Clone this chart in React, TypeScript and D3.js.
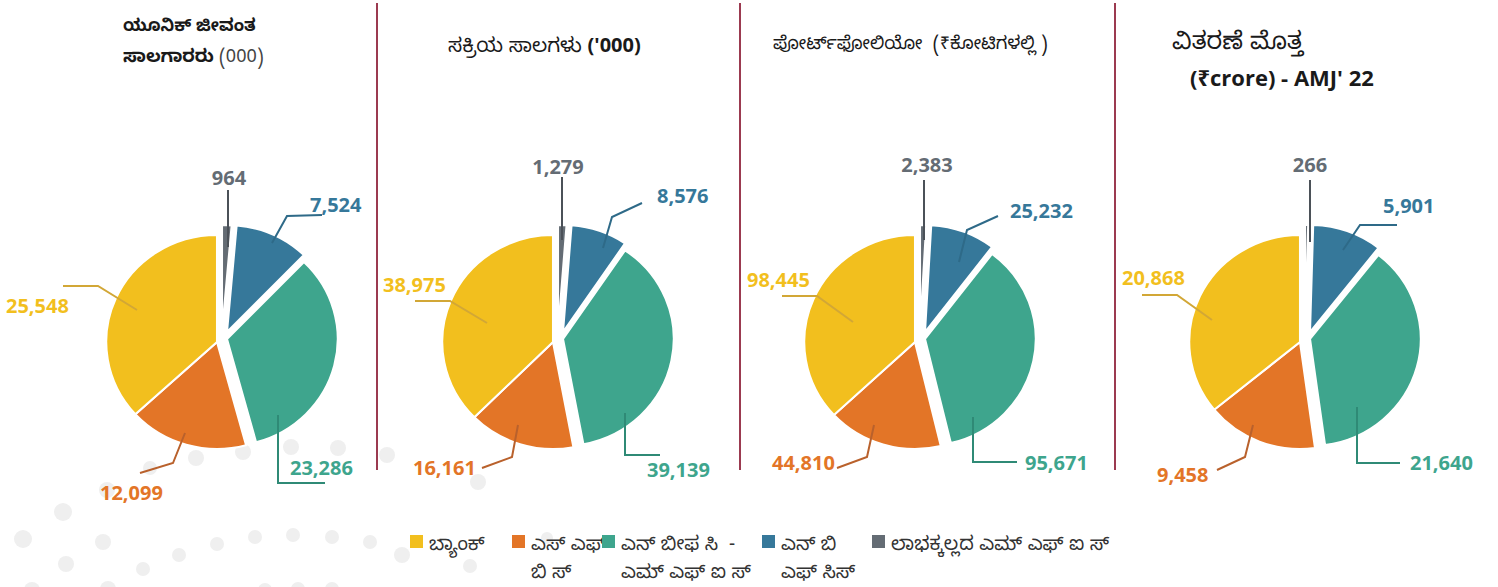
import React from "react";
import * as d3 from "d3";

// ---------- DATA ----------
const categories = [
  "ಬ್ಯಾಂಕ್",
  "ಎಸ್ ಎಫ್ ಬಿ ಸ್",
  "ಎನ್ ಬೀಫ ಸಿ - ಎಮ್ ಎಫ್ ಐ ಸ್",
  "ಎನ್ ಬಿ ಎಫ್ ಸಿಸ್",
  "ಲಾಭಕ್ಕಲ್ಲದ ಎಮ್ ಎಫ್ ಐ ಸ್",
];
const legendLines = [
  ["ಬ್ಯಾಂಕ್"],
  ["ಎಸ್ ಎಫ್", "ಬಿ ಸ್"],
  ["ಎನ್ ಬೀಫ ಸಿ  -", "ಎಮ್ ಎಫ್ ಐ ಸ್"],
  ["ಎನ್ ಬಿ", "ಎಫ್ ಸಿಸ್"],
  ["ಲಾಭಕ್ಕಲ್ಲದ ಎಮ್ ಎಫ್ ಐ ಸ್"],
];
const uniqueBorrowers = [25548, 12099, 23286, 7524, 964];
const activeLoans = [38975, 16161, 39139, 8576, 1279];
const portfolio = [98445, 44810, 95671, 25232, 2383];
const disbursement = [20868, 9458, 21640, 5901, 266];

// ---------- STYLE / LAYOUT ----------
const colors = ["#F2BF1E", "#E37527", "#3EA58D", "#36789A", "#646C74"];
const lineColors = ["#D2A736", "#B9612C", "#2F8A76", "#2E6A88", "#4B5158"];
const KN = "'Noto Sans Kannada', 'Noto Sans', 'Open Sans', sans-serif";
const NUM = "'Open Sans', 'Noto Sans', sans-serif";
const CY = 342;
const R = 107;
// explode offsets for teal, blue, grey
const explode: Record<number, [number, number]> = {
  2: [10, -3],
  3: [10, -10],
  4: [5, -10],
};

type Lbl = { tx: number; ty: number; anchor: string; pts: [number, number][] };
type PieCfg = { cx: number; values: number[]; labels: Lbl[] };

const pies: PieCfg[] = [
  {
    cx: 217,
    values: uniqueBorrowers,
    labels: [
      { tx: -211, ty: -29, anchor: "start", pts: [[-154, -56], [-119, -56], [-80, -32]] },
      { tx: -117, ty: 158, anchor: "start", pts: [[-77, 131], [-44, 121], [-32, 91]] },
      { tx: 73, ty: 133, anchor: "start", pts: [[61, 73], [61, 141], [108, 141]] },
      { tx: 93, ty: -130, anchor: "start", pts: [[105, -127], [70, -126], [55, -99]] },
      { tx: 12, ty: -157, anchor: "middle", pts: [[11, -152], [11, -95]] },
    ],
  },
  {
    cx: 553,
    values: activeLoans,
    labels: [
      { tx: -170, ty: -50, anchor: "start", pts: [[-138, -41], [-103, -41], [-66, -19]] },
      { tx: -140, ty: 133, anchor: "start", pts: [[-71, 126], [-41, 115], [-35, 83]] },
      { tx: 94, ty: 135, anchor: "start", pts: [[72, 71], [72, 113], [107, 113]] },
      { tx: 104, ty: -139, anchor: "start", pts: [[89, -139], [59, -125], [50, -94]] },
      { tx: 5, ty: -168, anchor: "middle", pts: [[9, -165], [9, -102]] },
    ],
  },
  {
    cx: 915,
    values: portfolio,
    labels: [
      { tx: -168, ty: -55, anchor: "start", pts: [[-133, -46], [-98, -46], [-62, -20]] },
      { tx: -143, ty: 128, anchor: "start", pts: [[-78, 126], [-48, 115], [-41, 83]] },
      { tx: 110, ty: 128, anchor: "start", pts: [[58, 75], [58, 120], [102, 120]] },
      { tx: 95, ty: -124, anchor: "start", pts: [[83, -126], [52, -112], [44, -80]] },
      { tx: 12, ty: -170, anchor: "middle", pts: [[9, -162], [9, -102]] },
    ],
  },
  {
    cx: 1300,
    values: disbursement,
    labels: [
      { tx: -178, ty: -57, anchor: "start", pts: [[-158, -47], [-123, -47], [-88, -22]] },
      { tx: -143, ty: 140, anchor: "start", pts: [[-83, 128], [-55, 115], [-47, 83]] },
      { tx: 110, ty: 128, anchor: "start", pts: [[57, 65], [57, 121], [100, 121]] },
      { tx: 83, ty: -129, anchor: "start", pts: [[97, -117], [60, -117], [43, -92]] },
      { tx: 10, ty: -170, anchor: "middle", pts: [[10, -162], [10, -100]] },
    ],
  },
];

const separators = [377, 740, 1115];
const legendX = [410, 512, 602, 762, 872];

const dots: [number, number, number][] = [
  [63, 512, 9], [23, 539, 9], [103, 542, 8], [66, 564, 8], [143, 569, 7],
  [179, 555, 7], [217, 544, 7], [255, 537, 7], [293, 535, 7], [332, 537, 7],
  [370, 542, 7], [32, 590, 8], [108, 589, 8], [265, 590, 7], [298, 589, 7],
  [332, 589, 7], [107, 490, 8], [150, 468, 7], [196, 458, 8], [243, 452, 8],
  [291, 447, 8], [338, 448, 8], [387, 455, 8], [478, 482, 8], [402, 555, 8],
  [470, 566, 7], [547, 538, 6],
];

const fmt = d3.format(",");

function PieChart({ cfg }: { cfg: PieCfg }) {
  const order = [4, 3, 2, 1, 0]; // clockwise from top: grey, blue, teal, orange, yellow
  const gen = d3
    .pie<number>()
    .sort(null)
    .value((i) => cfg.values[i]);
  const arcs = gen(order);
  const arc = d3.arc<d3.PieArcDatum<number>>().innerRadius(0).outerRadius(R);
  const line = d3.line();
  return (
    <g transform={`translate(${cfg.cx},${CY})`}>
      <g transform="scale(1.035,1)">
        {arcs.map((a) => {
          const off = explode[a.data] || [0, 0];
          return (
            <path
              key={a.data}
              d={arc(a) || ""}
              transform={`translate(${off[0] / 1.035},${off[1]})`}
              fill={colors[a.data]}
              stroke="#fff"
              strokeWidth={2}
            />
          );
        })}
      </g>
      {cfg.labels.map((l, i) => (
        <g key={i}>
          <path
            d={line(l.pts) || ""}
            fill="none"
            stroke={lineColors[i]}
            strokeWidth={2}
          />
          <text
            x={l.tx}
            y={l.ty}
            textAnchor={l.anchor}
            fontFamily={NUM}
            fontWeight={700}
            fontSize={20}
            fill={colors[i]}
          >
            {fmt(cfg.values[i])}
          </text>
        </g>
      ))}
    </g>
  );
}

export default function App() {
  return (
    <svg
      width={1498}
      height={587}
      style={{ position: "absolute", left: 0, top: 0, background: "#fff" }}
    >
      {dots.map(([x, y, r], i) => (
        <circle key={i} cx={x} cy={y} r={r} fill="#EFEFEF" />
      ))}
      {separators.map((x) => (
        <line key={x} x1={x} x2={x} y1={3} y2={470} stroke="#9B3A50" strokeWidth={2} />
      ))}

      {/* titles */}
      <text fontFamily={KN} fontSize={17} fill="#1a1a1a">
        <tspan x={123} y={31} fontWeight={700} fontSize={17}>ಯೂನಿಕ್ ಜೀವಂತ</tspan>
        <tspan x={123} y={62} fontWeight={700} fontSize={18}>ಸಾಲಗಾರರು</tspan>
        <tspan fontWeight={400} fill="#444" fontSize={18}> (000)</tspan>
      </text>
      <text x={448} y={52} fontFamily={KN} fontSize={20} fill="#1a1a1a">
        <tspan fontWeight={400}>ಸಕ್ರಿಯ ಸಾಲಗಳು </tspan>
        <tspan fontWeight={700} fontFamily={NUM}>('000)</tspan>
      </text>
      <text
        x={773}
        y={49}
        fontFamily={KN}
        fontSize={18}
        fill="#1a1a1a"
        style={{ whiteSpace: "pre" }}
      >
        {"ಪೋರ್ಟ್‌ಫೋಲಿಯೋ  (₹ಕೋಟಿಗಳಲ್ಲಿ )"}
      </text>
      <text x={1172} y={49} fontFamily={KN} fontSize={24} fill="#1a1a1a">
        ವಿತರಣೆ ಮೊತ್ತ
      </text>
      <text x={1190} y={86} fontFamily={NUM} fontSize={22} fontWeight={700} fill="#1a1a1a">
        (₹crore) - AMJ' 22
      </text>

      {pies.map((p, i) => (
        <PieChart key={i} cfg={p} />
      ))}

      {/* legend */}
      {categories.map((c, i) => (
        <g key={c}>
          <rect x={legendX[i]} y={535} width={13} height={13} fill={colors[i]} />
          <text fontFamily={KN} fontSize={19} fill="#333" style={{ whiteSpace: "pre" }}>
            {legendLines[i].map((ln, j) => (
              <tspan key={j} x={legendX[i] + 19} y={550 + j * 28}>
                {ln}
              </tspan>
            ))}
          </text>
        </g>
      ))}
    </svg>
  );
}
